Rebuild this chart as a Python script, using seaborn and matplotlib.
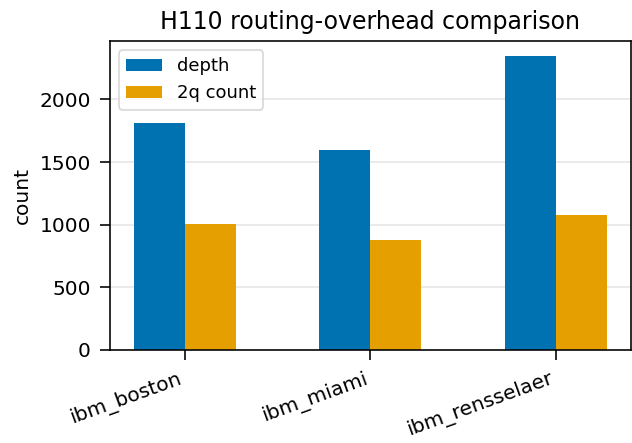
import matplotlib
matplotlib.use("Agg")
import matplotlib.pyplot as plt
import seaborn as sns
import pandas as pd

backends = ["ibm_boston", "ibm_miami", "ibm_rensselaer"]
depth = [1814, 1600, 2348]
twoq = [1008, 875, 1080]
series_names = ["depth", "2q count"]
colors = ["#0072B2", "#E69F00"]

df = pd.DataFrame({
    "backend": backends * 2,
    "value": depth + twoq,
    "metric": [series_names[0]] * 3 + [series_names[1]] * 3,
})

sns.set_style("white")
plt.rcParams["font.family"] = ["DejaVu Sans"]
plt.rcParams["text.color"] = "black"
plt.rcParams["axes.labelcolor"] = "black"
k = 1.45

fig = plt.figure(figsize=(6.32, 4.43), dpi=100)
ax = fig.add_axes([0.174, 0.210, 0.824, 0.697])
sns.barplot(data=df, x="backend", y="value", hue="metric", palette=colors,
            width=0.55, ax=ax, saturation=1, edgecolor="none")
ax.set_xlim(-0.4025, 2.4025)
ax.set_ylim(0, 2465)
ax.set_yticks([0, 500, 1000, 1500, 2000])
ax.yaxis.grid(True, color="#e6e6e6", linewidth=0.8 * k)
ax.set_axisbelow(True)
for s in ax.spines.values():
    s.set_visible(True)
    s.set_color("black")
    s.set_linewidth(0.8 * k)
ax.tick_params(axis="both", which="major", direction="out", length=7.2,
               width=0.8 * k, pad=6.5, labelsize=14.5,
               bottom=True, left=True, colors="black", labelcolor="black")
plt.setp(ax.get_xticklabels(), rotation=20, ha="right")
ax.set_xlabel("")
ax.set_ylabel("count", fontsize=14.5, labelpad=4 * k, color="black")
ax.set_title("H110 routing-overhead comparison", fontsize=17, pad=6 * k,
             color="black")
leg = ax.legend(loc="upper left", fontsize=13, title=None, frameon=True,
                borderaxespad=0.5, handlelength=2.0)
leg.get_frame().set_edgecolor("#cccccc")
leg.get_frame().set_linewidth(0.8 * k)
for t in leg.get_texts():
    t.set_color("black")
fig.savefig("out.png", dpi=100)
